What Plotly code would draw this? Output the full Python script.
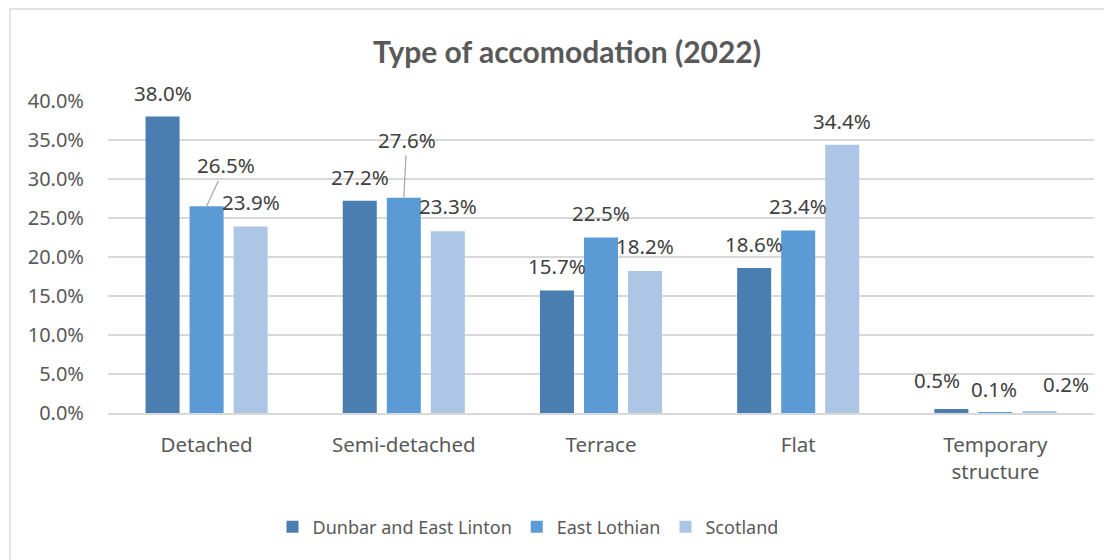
import plotly.graph_objects as go

categories = ["Detached", "Semi-detached", "Terrace", "Flat", "Temporary<br>structure"]
series_names = ["Dunbar and East Linton", "East Lothian", "Scotland"]
dunbar = [38.0, 27.2, 15.7, 18.6, 0.5]
east_lothian = [26.5, 27.6, 22.5, 23.4, 0.1]
scotland = [23.9, 23.3, 18.2, 34.4, 0.2]
y_ticks = [0, 5, 10, 15, 20, 25, 30, 35, 40]

values = [dunbar, east_lothian, scotland]
colors = ["#4a7eb0", "#5b9bd5", "#adc6e5"]

W, H = 1112, 560
OFF = 8  # page body margin in the browser
ML, MR, MT, MB = 108 - OFF, 26, 101 - OFF, 155
BARGAP = 0.33
plot_w = W - ML - MR
plot_h = H - MT - MB
cat_w = plot_w / len(categories)
slot = cat_w * (1 - BARGAP) / 3
offsets = [-slot, 0, slot]

FONT = "Noto Sans"
TXT = "#595959"
LBL = "#404040"

fig = go.Figure()
for name, vals, col in zip(series_names, values, colors):
    fig.add_trace(go.Bar(x=categories, y=vals, name=name, marker_color=col,
                         marker_line_width=0, hoverinfo="skip"))

# label placement tweaks (pixel offsets) per series/category
label_dx = [[0, 0, 0, 0, -14], [0, 0, 0, 0, -1], [0, 0, 0, 0, 27]]
label_dy = [[24, 24, 25, 24, 29], [24, 24, 25, 24, 23], [25, 25, 25, 24, 27]]
leaders = {(1, 0): (19, -41), (1, 1): (3, -58)}

annotations = []
for i, vals in enumerate(values):
    for j, v in enumerate(vals):
        txt = f"{v:.1f}%"
        if (i, j) in leaders:
            ax, ay = leaders[(i, j)]
            annotations.append(dict(x=categories[j], y=v, xref="x", yref="y",
                                    xshift=offsets[i], text=txt, showarrow=True,
                                    arrowhead=0, arrowwidth=1.2, arrowcolor="#a6a6a6",
                                    standoff=0, ax=ax, ay=ay,
                                    font=dict(family=FONT, size=20.5, color=LBL)))
        else:
            annotations.append(dict(x=categories[j], y=v, xref="x", yref="y",
                                    xshift=offsets[i] + label_dx[i][j], yshift=label_dy[i][j],
                                    text=txt, showarrow=False, yanchor="middle",
                                    font=dict(family=FONT, size=20.5, color=LBL)))

fig.update_layout(
    width=W, height=H,
    margin=dict(l=ML, r=MR, t=MT, b=MB),
    paper_bgcolor="white", plot_bgcolor="white",
    barmode="group", bargap=BARGAP, bargroupgap=0.227,
    title=dict(text="<b>Type of accomodation (2022)</b>", x=(567 - OFF) / W, xanchor="center",
               y=1 - (52 - OFF) / H, yanchor="middle",
               font=dict(family="Lato", size=30, color=TXT)),
    font=dict(family=FONT, size=18, color=TXT),
    annotations=annotations,
    legend=dict(orientation="h", x=(520 - ML) / plot_w, xanchor="center",
                y=(H - MB - (527 - OFF)) / plot_h, yanchor="middle",
                font=dict(family=FONT, size=18, color=TXT),
                itemwidth=30, traceorder="normal"),
    showlegend=True,
    shapes=[dict(type="rect", xref="paper", yref="paper",
                 x0=(10 - OFF - ML) / plot_w, x1=(W + 5 - ML) / plot_w,
                 y0=(H - MB - (H + 5)) / plot_h, y1=(H - MB - (9 - OFF)) / plot_h,
                 line=dict(color="#d9d9d9", width=1.5), layer="below")],
)
fig.update_xaxes(showline=True, linecolor="#d9d9d9", linewidth=1.5,
                 ticks="outside", ticklen=13, tickcolor="rgba(0,0,0,0)",
                 tickfont=dict(family=FONT, size=20.5, color=TXT), fixedrange=True)
fig.update_yaxes(range=[0, 40], tickvals=y_ticks,
                 ticktext=[f"{t:.1f}%" for t in y_ticks],
                 showgrid=True, gridcolor="#d9d9d9", gridwidth=1.5, zeroline=False,
                 ticks="outside", ticklen=19, tickcolor="rgba(0,0,0,0)",
                 tickfont=dict(family=FONT, size=20, color=TXT), fixedrange=True)

fig.write_html("out.html")
